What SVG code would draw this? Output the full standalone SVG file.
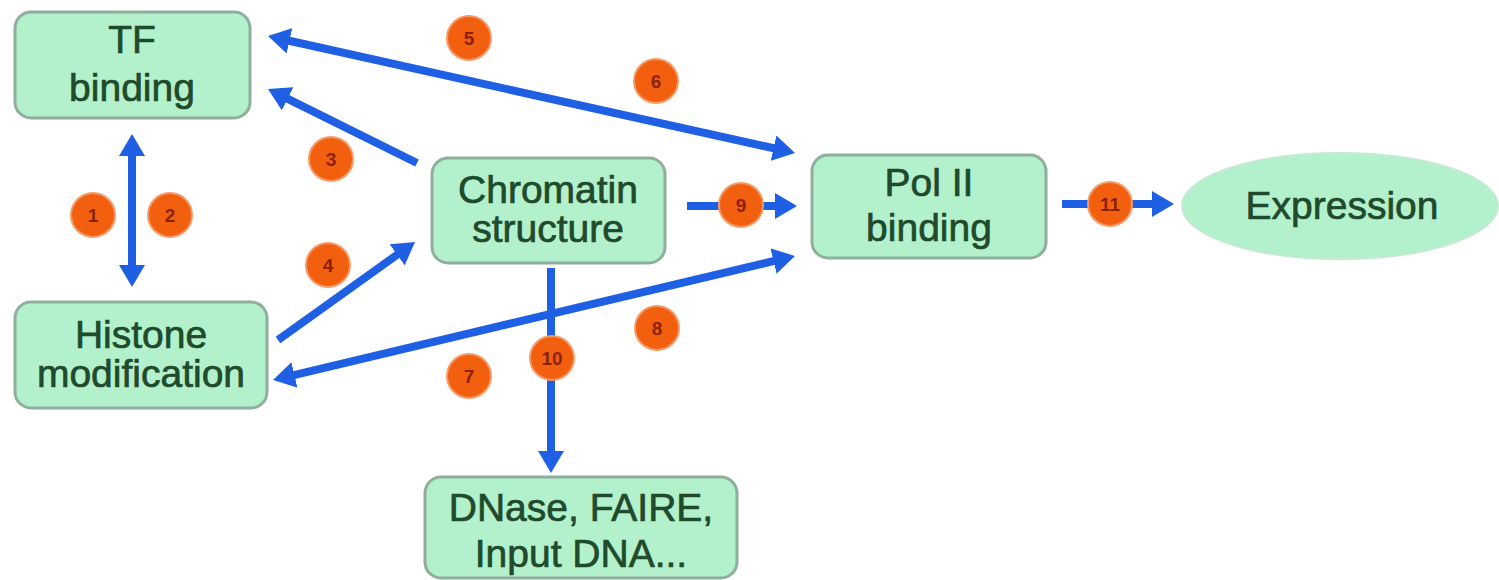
<svg xmlns="http://www.w3.org/2000/svg" width="1499" height="580" viewBox="0 0 1499 580">
  <defs>
    <marker id="head" markerUnits="userSpaceOnUse" viewBox="0 0 22 26" markerWidth="22" markerHeight="26" refX="6" refY="13" orient="auto-start-reverse">
      <path d="M0,0 L22,13 L0,26 z" fill="#1f5fe3"/>
    </marker>
    <style>
      .box { fill: #b2f1cb; stroke: #8fae9c; stroke-width: 3; }
      .oval { fill: #b2f1cb; stroke: #c4ead2; stroke-width: 2; }
      .lbl { font-family: "Liberation Sans", Arial, sans-serif; font-size: 39px; fill: #1f4a2c; stroke: #1f4a2c; stroke-width: 0.7; text-anchor: middle; }
      .edge { stroke: #1f5fe3; stroke-width: 8; fill: none; }
      .badge circle { fill: #f2600f; stroke: #f59a66; stroke-width: 2; }
      .badge text { font-family: "Liberation Sans", Arial, sans-serif; font-size: 19px; font-weight: bold; fill: #8b2205; text-anchor: middle; }
    </style>
  </defs>
  <rect width="1499" height="580" fill="#ffffff"/>

  <!-- nodes -->
  <g id="tf-binding">
    <rect class="box" x="15" y="12" width="235" height="106" rx="16"/>
    <text class="lbl" x="132" y="53">TF</text>
    <text class="lbl" x="132" y="101">binding</text>
  </g>
  <g id="histone-modification">
    <rect class="box" x="15" y="302" width="252" height="106" rx="16"/>
    <text class="lbl" x="141" y="348">Histone</text>
    <text class="lbl" x="141" y="387">modification</text>
  </g>
  <g id="chromatin-structure">
    <rect class="box" x="432" y="158" width="233" height="105" rx="16"/>
    <text class="lbl" x="548" y="203">Chromatin</text>
    <text class="lbl" x="548" y="242">structure</text>
  </g>
  <g id="pol2-binding">
    <rect class="box" x="812" y="155" width="234" height="103" rx="16"/>
    <text class="lbl" x="929" y="196">Pol II</text>
    <text class="lbl" x="929" y="241">binding</text>
  </g>
  <g id="expression">
    <ellipse class="oval" cx="1340" cy="206" rx="158" ry="53"/>
    <text class="lbl" x="1342" y="219">Expression</text>
  </g>
  <g id="assays">
    <rect class="box" x="425" y="477" width="312" height="101" rx="16"/>
    <text class="lbl" x="581" y="521">DNase, FAIRE,</text>
    <text class="lbl" x="581" y="567">Input DNA...</text>
  </g>

  <!-- connectors -->
  <g id="connectors">
    <line class="edge" x1="132" y1="150" x2="132" y2="271" marker-start="url(#head)" marker-end="url(#head)"/>
    <line class="edge" x1="283.6" y1="39.5" x2="779.4" y2="149.5" marker-start="url(#head)" marker-end="url(#head)"/>
    <line class="edge" x1="417" y1="163" x2="282.3" y2="96.1" marker-end="url(#head)"/>
    <line class="edge" x1="278" y1="340" x2="402" y2="251.3" marker-end="url(#head)"/>
    <line class="edge" x1="288.6" y1="376.3" x2="779.4" y2="259.7" marker-start="url(#head)" marker-end="url(#head)"/>
    <line class="edge" x1="687" y1="206" x2="781" y2="206" marker-end="url(#head)"/>
    <line class="edge" x1="551" y1="268" x2="551" y2="457" marker-end="url(#head)"/>
    <line class="edge" x1="1062" y1="204" x2="1158" y2="204" marker-end="url(#head)"/>
  </g>

  <!-- numbered badges -->
  <g id="badges">
    <g class="badge"><circle cx="93" cy="215" r="22"/><text x="93" y="222">1</text></g>
    <g class="badge"><circle cx="170" cy="215" r="22"/><text x="170" y="222">2</text></g>
    <g class="badge"><circle cx="331" cy="159" r="22"/><text x="331" y="166">3</text></g>
    <g class="badge"><circle cx="328" cy="265" r="22"/><text x="328" y="272">4</text></g>
    <g class="badge"><circle cx="469" cy="38" r="22"/><text x="469" y="45">5</text></g>
    <g class="badge"><circle cx="656" cy="81" r="22"/><text x="656" y="88">6</text></g>
    <g class="badge"><circle cx="469" cy="376" r="22"/><text x="469" y="383">7</text></g>
    <g class="badge"><circle cx="657" cy="328" r="22"/><text x="657" y="335">8</text></g>
    <g class="badge"><circle cx="741" cy="205" r="22"/><text x="741" y="212">9</text></g>
    <g class="badge"><circle cx="552" cy="358" r="22"/><text x="552" y="365">10</text></g>
    <g class="badge"><circle cx="1110" cy="204" r="22"/><text x="1110" y="211">11</text></g>
  </g>
</svg>
